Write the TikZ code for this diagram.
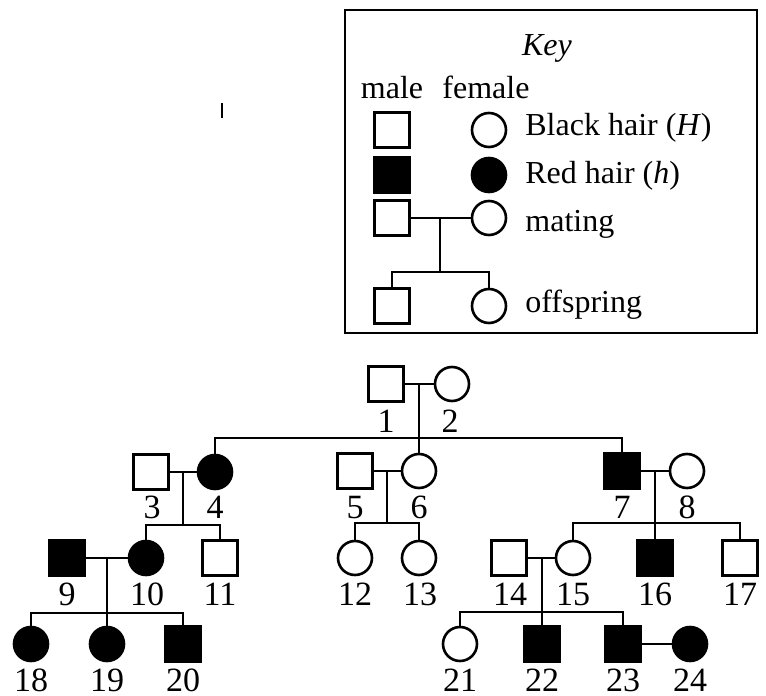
\documentclass[tikz,border=0pt]{standalone}
\usepackage{fontspec}
\setmainfont{Liberation Serif}
\begin{document}
\begin{tikzpicture}[x=0.5pt,y=-0.5pt,
  lw/.style={line width=1.3pt},
  male/.style={draw,lw,minimum size=17.5pt,inner sep=0pt,fill=white},
  female/.style={circle,draw,lw,minimum size=17pt,inner sep=0pt,fill=white},
  aff/.style={fill=black},
  conn/.style={lw},
  lbl/.style={anchor=base,inner sep=0pt,font=\fontsize{17}{19}\selectfont},
  keytxt/.style={anchor=base west,inner sep=0pt,font=\fontsize{16}{18}\selectfont},
  keyhead/.style={anchor=base,inner sep=0pt,font=\fontsize{16}{18}\selectfont}]
\useasboundingbox (0,0) rectangle (766,696);
% key box
\draw[line width=1pt] (345,10) rectangle (757,333);
\node[keyhead,font=\fontsize{16}{18}\selectfont\itshape] (keyt) at (547,55) {Key};
\node[keyhead] (kmale) at (392,98) {male};
\node[keyhead] (kfemale) at (486,98) {female};
\node[male] (km1) at (392,130) {};
\node[female] (kf1) at (489,130) {};
\node[male,aff] (km2) at (392,175) {};
\node[female,aff] (kf2) at (489,175) {};
\node[male] (km3) at (392,218) {};
\node[female] (kf3) at (489,218) {};
\node[male] (kc1) at (392,306) {};
\node[female] (kc2) at (489,306) {};
\coordinate (kmm) at (440,218);
\coordinate (kss) at (440,272);
\draw[conn] (km3) -- (kf3);
\draw[conn] (kmm) -- (kss);
\draw[conn] (kc1) |- (kss) -| (kc2);
\node[keytxt] (t1) at (525,135) {Black hair (\textit{H})};
\node[keytxt] (t2) at (525,183) {Red hair (\textit{h})};
\node[keytxt] (t3) at (525,231) {mating};
\node[keytxt] (t4) at (525,312) {offspring};
% stray mark
\coordinate (sa) at (222,103);
\coordinate (sb) at (222,118);
\draw[line width=1pt] (sa) -- (sb);
% generation 1
\node[male] (n1) at (386,384) {};
\node[female] (n2) at (452,384) {};
% generation 2
\node[male] (n3) at (151,472) {};
\node[female,aff] (n4) at (215,472) {};
\node[male] (n5) at (355,471) {};
\node[female] (n6) at (419,471) {};
\node[male,aff] (n7) at (622,471) {};
\node[female] (n8) at (687,471) {};
% generation 3
\node[male,aff] (n9) at (67,558) {};
\node[female,aff] (n10) at (146,558) {};
\node[male] (n11) at (220,558) {};
\node[female] (n12) at (355,558) {};
\node[female] (n13) at (419,558) {};
\node[male] (n14) at (509,558) {};
\node[female] (n15) at (573,558) {};
\node[male,aff] (n16) at (655,558) {};
\node[male] (n17) at (740,558) {};
% generation 4
\node[female,aff] (n18) at (31,644) {};
\node[female,aff] (n19) at (107,644) {};
\node[male,aff] (n20) at (183,644) {};
\node[female] (n21) at (460,644) {};
\node[male,aff] (n22) at (542,644) {};
\node[male,aff] (n23) at (623,644) {};
\node[female,aff] (n24) at (690,644) {};
% junction coordinates
\coordinate (m12) at (419,384);
\coordinate (s1) at (419,438);
\coordinate (m34) at (183,472);
\coordinate (s34) at (183,525);
\coordinate (m56) at (387,471);
\coordinate (s56) at (387,523);
\coordinate (m78) at (655,471);
\coordinate (s78) at (655,523);
\coordinate (m910) at (107,558);
\coordinate (s910) at (107,613);
\coordinate (m1415) at (542,558);
\coordinate (s1415) at (542,612);
% connectors
\draw[conn] (n1) -- (n2);
\draw[conn] (m12) -- (n6);
\draw[conn] (n4) |- (s1) -| (n7);
\draw[conn] (n3) -- (n4);
\draw[conn] (m34) -- (s34);
\draw[conn] (n10) |- (s34) -| (n11);
\draw[conn] (n5) -- (n6);
\draw[conn] (m56) -- (s56);
\draw[conn] (n12) |- (s56) -| (n13);
\draw[conn] (n7) -- (n8);
\draw[conn] (m78) -- (n16);
\draw[conn] (n15) |- (s78) -| (n17);
\draw[conn] (n9) -- (n10);
\draw[conn] (m910) -- (n19);
\draw[conn] (n18) |- (s910) -| (n20);
\draw[conn] (n14) -- (n15);
\draw[conn] (m1415) -- (n22);
\draw[conn] (n21) |- (s1415) -| (n23);
\draw[conn] (n23) -- (n24);
% labels
\node[lbl] (l1) at (386,432) {1};
\node[lbl] (l2) at (450,432) {2};
\node[lbl] (l3) at (152,518) {3};
\node[lbl] (l4) at (215,518) {4};
\node[lbl] (l5) at (355,518) {5};
\node[lbl] (l6) at (419,518) {6};
\node[lbl] (l7) at (622,518) {7};
\node[lbl] (l8) at (687,518) {8};
\node[lbl] (l9) at (67,605) {9};
\node[lbl] (l10) at (147,605) {10};
\node[lbl] (l11) at (220,605) {11};
\node[lbl] (l12) at (355,605) {12};
\node[lbl] (l13) at (420,605) {13};
\node[lbl] (l14) at (510,605) {14};
\node[lbl] (l15) at (573,605) {15};
\node[lbl] (l16) at (655,605) {16};
\node[lbl] (l17) at (740,605) {17};
\node[lbl] (l18) at (31,691) {18};
\node[lbl] (l19) at (107,691) {19};
\node[lbl] (l20) at (183,691) {20};
\node[lbl] (l21) at (460,691) {21};
\node[lbl] (l22) at (542,691) {22};
\node[lbl] (l23) at (623,691) {23};
\node[lbl] (l24) at (690,691) {24};
\end{tikzpicture}
\end{document}
